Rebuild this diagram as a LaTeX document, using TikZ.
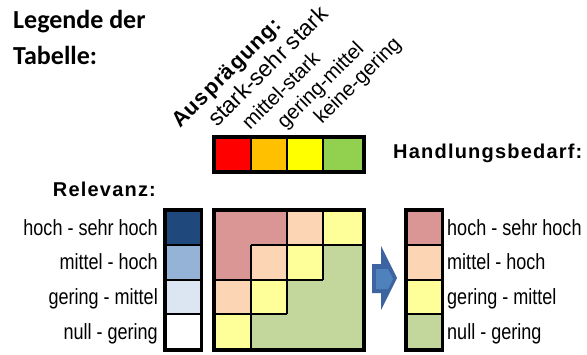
\documentclass[tikz,border=0pt]{standalone}
\usepackage{fontspec}
\setmainfont{Liberation Sans}
\newfontfamily\calb{Carlito}
\newfontfamily\hdrf[LetterSpace=6]{Liberation Sans}
\newfontfamily\ausf[LetterSpace=5]{Liberation Sans}
\newfontfamily\narrowf[FakeStretch=0.82]{Liberation Sans}
\newfontfamily\regf{Liberation Sans}
\definecolor{pinkc}{HTML}{D99694}
\definecolor{peachc}{HTML}{FCD5B5}
\definecolor{yellowc}{HTML}{FFFF99}
\definecolor{greenc}{HTML}{C3D69B}
\definecolor{redc}{HTML}{FF0000}
\definecolor{orangec}{HTML}{FFC000}
\definecolor{yelc}{HTML}{FFFF00}
\definecolor{grc}{HTML}{92D050}
\definecolor{blueA}{HTML}{1F497D}
\definecolor{blueB}{HTML}{95B3D7}
\definecolor{blueC}{HTML}{DCE6F2}
\definecolor{arrowout}{HTML}{3D64A0}
\definecolor{arrowin}{HTML}{4F81BD}
\tikzset{
  sep/.style={draw=black, line width=2pt},
  frame/.style={draw=black, line width=3.4pt},
  lbl/.style={inner sep=0pt, font=\narrowf\fontsize{22}{24}\selectfont},
  hdr/.style={inner sep=0pt, anchor=base west, font=\hdrf\bfseries\fontsize{20}{22}\selectfont},
  rot/.style={inner sep=0pt, anchor=base west, rotate=45, font=\regf\fontsize{20.5}{22}\selectfont},
}
\begin{document}
\begin{tikzpicture}[x=1pt,y=-1pt]
\useasboundingbox[fill=white] (0,0) rectangle (587,354);
% titles
\node[inner sep=0pt, anchor=base west, font=\calb\bfseries\fontsize{26}{30}\selectfont] (t1) at (13,28.3) {Legende der};
\node[inner sep=0pt, anchor=base west, font=\calb\bfseries\fontsize{26}{30}\selectfont] (t2) at (13,64.3) {Tabelle:};
\node[hdr] (hb) at (393,158) {Handlungsbedarf:};
\node[hdr] (rel) at (52.7,196.7) {Relevanz:};
% rotated labels
\node[rot, font=\ausf\bfseries\fontsize{21.5}{23}\selectfont] (aus) at (180,129) {Ausprägung:};
\node[rot, font=\regf\fontsize{23}{25}\selectfont] (r1) at (217,128) {stark-sehr stark};
\node[rot] (r2) at (250,131) {mittel-stark};
\node[rot] (r3) at (285,130) {gering-mittel};
\node[rot] (r4) at (322,125) {keine-gering};
% top colour bar
\fill[redc] (214,137) rectangle (251,172.3);
\fill[orangec] (251,137) rectangle (286.7,172.3);
\fill[yelc] (286.7,137) rectangle (323.2,172.3);
\fill[grc] (323.2,137) rectangle (364,172.3);
\draw[sep] (251,137) -- (251,172.3);
\draw[sep] (286.7,137) -- (286.7,172.3);
\draw[sep] (323.2,137) -- (323.2,172.3);
\draw[draw=black, line width=4pt] (214,137) rectangle (364,172.3);
% Relevanz column
\fill[blueA] (164.8,209.8) rectangle (201.6,245);
\fill[blueB] (164.8,245) rectangle (201.6,279.5);
\fill[blueC] (164.8,279.5) rectangle (201.6,313.8);
\fill[white] (164.8,313.8) rectangle (201.6,350);
\draw[sep] (164.8,245) -- (201.6,245);
\draw[sep] (164.8,279.5) -- (201.6,279.5);
\draw[sep] (164.8,313.8) -- (201.6,313.8);
\draw[frame] (164.8,209.8) rectangle (201.6,350);
% matrix
\fill[pinkc] (214,209.8) rectangle (286.7,245);
\fill[pinkc] (214,245) rectangle (251,279.5);
\fill[peachc] (286.7,209.8) rectangle (323.2,245);
\fill[peachc] (251,245) rectangle (286.7,279.5);
\fill[peachc] (214,279.5) rectangle (251,313.8);
\fill[yellowc] (323.2,209.8) rectangle (364,245);
\fill[yellowc] (286.7,245) rectangle (323.2,279.5);
\fill[yellowc] (251,279.5) rectangle (286.7,313.8);
\fill[yellowc] (214,313.8) rectangle (251,350);
\fill[greenc] (323.2,245) rectangle (364,279.5);
\fill[greenc] (286.7,279.5) rectangle (364,313.8);
\fill[greenc] (251,313.8) rectangle (364,350);
\draw[sep] (251,245) -- (251,350);
\draw[sep] (286.7,209.8) -- (286.7,313.8);
\draw[sep] (323.2,209.8) -- (323.2,279.5);
\draw[sep] (251,245) -- (364,245);
\draw[sep] (214,279.5) -- (323.2,279.5);
\draw[sep] (214,313.8) -- (286.7,313.8);
\draw[frame] (214,209.8) rectangle (364,350);
% arrow
\fill[arrowout] (372,264) -- (381,264) -- (381,246) -- (397,278) -- (381,310) -- (381,293) -- (372,293) -- cycle;
\fill[arrowin] (376,269) -- (388,269) -- (393,279) -- (388,289) -- (376,289) -- cycle;
% result legend
\fill[pinkc] (405.8,209.8) rectangle (442.2,245);
\fill[peachc] (405.8,245) rectangle (442.2,279.5);
\fill[yellowc] (405.8,279.5) rectangle (442.2,313.8);
\fill[greenc] (405.8,313.8) rectangle (442.2,350);
\draw[sep] (405.8,245) -- (442.2,245);
\draw[sep] (405.8,279.5) -- (442.2,279.5);
\draw[sep] (405.8,313.8) -- (442.2,313.8);
\draw[frame] (405.8,209.8) rectangle (442.2,350);
% left labels
\node[lbl, anchor=base east] (l1) at (158,235.5) {hoch - sehr hoch};
\node[lbl, anchor=base east] (l2) at (158,269.5) {mittel - hoch};
\node[lbl, anchor=base east] (l3) at (158,304) {gering - mittel};
\node[lbl, anchor=base east] (l4) at (158,339) {null - gering};
% right labels
\node[lbl, anchor=base west] (q1) at (447,235.5) {hoch - sehr hoch};
\node[lbl, anchor=base west] (q2) at (447,269.5) {mittel - hoch};
\node[lbl, anchor=base west] (q3) at (447,304) {gering - mittel};
\node[lbl, anchor=base west] (q4) at (447,339) {null - gering};
\end{tikzpicture}
\end{document}
